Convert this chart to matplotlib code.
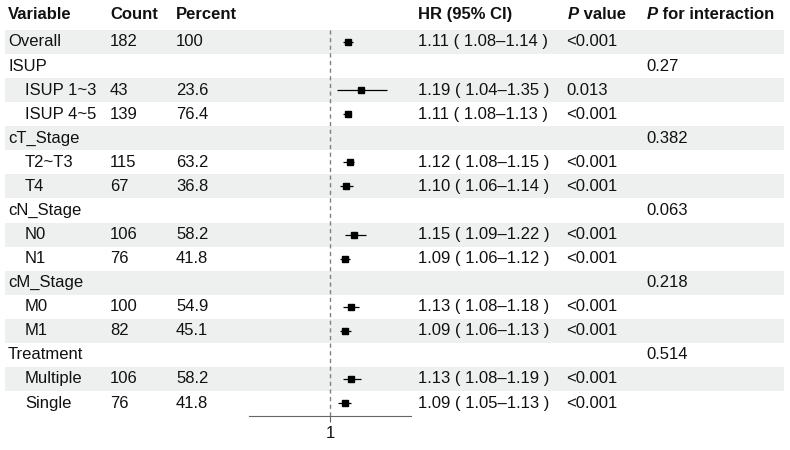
import numpy as np
import matplotlib.pyplot as plt

plt.rcParams['font.family'] = ['Liberation Sans', 'DejaVu Sans']

# table data, one entry per row (group rows have no estimate)
labels = ['Overall', 'ISUP', 'ISUP 1~3', 'ISUP 4~5', 'cT_Stage', 'T2~T3', 'T4',
          'cN_Stage', 'N0', 'N1', 'cM_Stage', 'M0', 'M1', 'Treatment', 'Multiple', 'Single']
is_sub = [False, False, True, True, False, True, True,
          False, True, True, False, True, True, False, True, True]
counts = ['182', '', '43', '139', '', '115', '67', '', '106', '76', '', '100', '82', '', '106', '76']
percents = ['100', '', '23.6', '76.4', '', '63.2', '36.8', '', '58.2', '41.8', '', '54.9', '45.1', '', '58.2', '41.8']
hr = [1.11, np.nan, 1.19, 1.11, np.nan, 1.12, 1.10, np.nan, 1.15, 1.09, np.nan, 1.13, 1.09, np.nan, 1.13, 1.09]
lo = [1.08, np.nan, 1.04, 1.08, np.nan, 1.08, 1.06, np.nan, 1.09, 1.06, np.nan, 1.08, 1.06, np.nan, 1.08, 1.05]
hi = [1.14, np.nan, 1.35, 1.13, np.nan, 1.15, 1.14, np.nan, 1.22, 1.12, np.nan, 1.18, 1.13, np.nan, 1.19, 1.13]
pvals = ['<0.001', '', '0.013', '<0.001', '', '<0.001', '<0.001', '', '<0.001', '<0.001',
         '', '<0.001', '<0.001', '', '<0.001', '<0.001']
p_inter = ['', '0.27', '', '', '0.382', '', '', '0.063', '', '', '0.218', '', '', '0.514', '', '']

W, H = 790, 450
row0, row_h = 42, 24.07  # pixel centre of first row, row spacing
col_var, col_sub, col_n, col_pct, col_hr, col_p, col_pi = 8, 25, 110, 176, 418, 566, 646


def px_to_row(py):
    return (py - row0) / row_h


fig = plt.figure(figsize=(7.9, 4.5), dpi=100)
ax = fig.add_axes([0, 0, 1, 1])
ax.set_xlim(0, W)
ax.set_ylim(px_to_row(H), px_to_row(0))
ax.axis('off')

n = len(labels)
rows = np.arange(n)

# zebra bands
for i in rows:
    if i % 2 == 0:
        ax.axhspan(i - 0.5, i + 0.5, xmin=5 / W, xmax=784 / W, color='#eef0ef', lw=0, zorder=0)

fs = 12
tc = '#111111'
hdr_y = px_to_row(15)
ax.text(col_var, hdr_y, 'Variable', fontsize=fs, fontweight='bold', va='center', color=tc)
ax.text(col_n, hdr_y, 'Count', fontsize=fs, fontweight='bold', va='center', color=tc)
ax.text(col_pct, hdr_y, 'Percent', fontsize=fs, fontweight='bold', va='center', color=tc)
ax.text(col_hr, hdr_y, 'HR (95% CI)', fontsize=fs, fontweight='bold', va='center', color=tc)
tp = ax.text(col_p + 2, hdr_y, 'P', fontsize=fs, fontweight='bold', style='italic', va='center', color=tc)
ax.annotate(' value', xy=(1, 0), xycoords=tp, va='bottom', fontsize=fs, fontweight='bold', color=tc)
tp2 = ax.text(col_pi + 1, hdr_y, 'P', fontsize=fs, fontweight='bold', style='italic', va='center', color=tc)
ax.annotate(' for interaction', xy=(1, 0), xycoords=tp2, va='bottom', fontsize=fs, fontweight='bold', color=tc)

for i in rows:
    ax.text(col_sub if is_sub[i] else col_var, i, labels[i], fontsize=fs, va='center', color=tc)
    ax.text(col_n, i, counts[i], fontsize=fs, va='center', color=tc)
    ax.text(col_pct, i, percents[i], fontsize=fs, va='center', color=tc)
    if not np.isnan(hr[i]):
        ax.text(col_hr, i, '{:.2f} ( {:.2f}\u2013{:.2f} )'.format(hr[i], lo[i], hi[i]),
                fontsize=fs, va='center', color=tc)
    ax.text(col_p, i, pvals[i], fontsize=fs, va='center', color=tc)
    ax.text(col_pi, i, p_inter[i], fontsize=fs, va='center', color=tc)

# forest panel
x_left, x_right = 249.3, 411
y_top, y_bot = 30, 416
fax = fig.add_axes([x_left / W, (H - y_bot) / H, (x_right - x_left) / W, (y_bot - y_top) / H])
fax.patch.set_visible(False)
fax.set_xlim(0.5, 1.5)
fax.set_ylim(px_to_row(y_bot), px_to_row(y_top))
for s in ['top', 'right', 'left']:
    fax.spines[s].set_visible(False)
fax.spines['bottom'].set_color('#666666')
fax.spines['bottom'].set_linewidth(0.8)
fax.set_yticks([])
fax.set_xticks([1])
fax.set_xticklabels(['1'], fontsize=fs, color=tc)
fax.tick_params(axis='x', length=4, color='#666666', pad=3)
fax.axvline(1, color='#808080', lw=1.0, ls=(0, (3, 2.5)), zorder=1)

hr_a, lo_a, hi_a = np.array(hr), np.array(lo), np.array(hi)
ok = ~np.isnan(hr_a)
fax.hlines(rows[ok], lo_a[ok], hi_a[ok], color='black', lw=0.9, zorder=2)
fax.plot(hr_a[ok], rows[ok], 's', color='black', ms=4, zorder=3)

fig.savefig('out.png', dpi=100)
